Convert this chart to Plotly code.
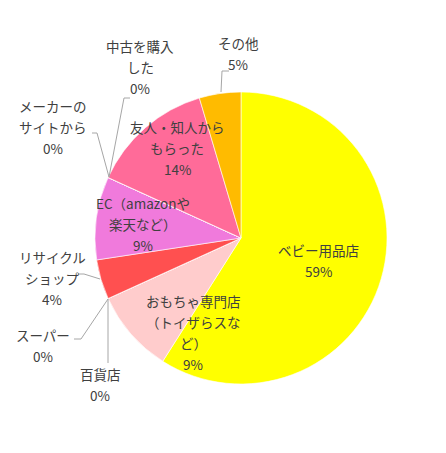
import plotly.graph_objects as go

# slices in clockwise order from 12 o'clock
labels = ["ベビー用品店", "おもちゃ専門店（トイザらスなど）", "百貨店", "スーパー", "リサイクルショップ",
          "EC（amazonや楽天など）", "メーカーのサイトから", "中古を購入した", "友人・知人からもらった", "その他"]
values = [59.0, 9.2, 0, 0, 4.4, 9.2, 0, 0, 13.6, 4.6]
label_lines = [["ベビー用品店"], ["おもちゃ専門店", "（トイザらスな", "ど）"], ["百貨店"], ["スーパー"],
               ["リサイクル", "ショップ"], ["EC（amazonや", "楽天など）"], ["メーカーの", "サイトから"],
               ["中古を購入", "した"], ["友人・知人から", "もらった"], ["その他"]]
colors = ["#FFFF00", "#FFCCCC", "#FF7F7F", "#FF9999", "#FF5050",
          "#F07ADC", "#CC99FF", "#9999FF", "#FF6B99", "#FFBB00"]

W, H = 446, 453
cx, cy, r = 241, 238, 146

# pixel position of first line of each label, line step in px
label_pos = [(318, 250), (193, 301), (100, 374), (43, 335), (52, 257),
             (143, 203), (53, 106), (140, 46), (177, 127), (238, 43)]
step = 21

# elbow leader lines for labels sitting outside the pie (pixels)
leaders = [
    [(108, 299), (108, 363)],
    [(108, 299), (81, 339), (74, 339)],
    [(100, 279), (84, 274), (78, 274)],
    [(109, 177), (97, 133), (92, 133)],
    [(109, 177), (124, 98), (130, 98)],
    [(221, 92), (222, 71), (229, 71)],
]

total = sum(values)
fig = go.Figure(go.Pie(
    labels=labels, values=values, sort=False, direction="clockwise", rotation=0,
    marker=dict(colors=colors, line=dict(color="white", width=0.6)),
    textinfo="none", hoverinfo="label+percent", showlegend=False,
    domain=dict(x=[(cx - r) / W, (cx + r) / W], y=[(H - cy - r) / H, (H - cy + r) / H]),
))

font = dict(family="Noto Sans CJK JP, sans-serif", size=13.5, color="#404040")
for lines, v, (px, py) in zip(label_lines, values, label_pos):
    rows = lines + [f"{v / total:.0%}"]
    for i, t in enumerate(rows):
        fig.add_annotation(text=t, x=px / W, y=1 - (py + i * step) / H, xref="paper", yref="paper",
                           showarrow=False, font=font, xanchor="center", yanchor="middle")

for pts in leaders:
    path = "M " + " L ".join(f"{x / W} {1 - y / H}" for x, y in pts)
    fig.add_shape(type="path", path=path, xref="paper", yref="paper",
                  line=dict(color="#A6A6A6", width=1))

fig.update_layout(width=W, height=H, margin=dict(l=0, r=0, t=0, b=0),
                  paper_bgcolor="white", plot_bgcolor="white")
# drop the browser's default body margin so the figure sits at the page corner
fig.write_html("out.html", config={"displayModeBar": False},
               post_script="document.body.style.margin='0';")
